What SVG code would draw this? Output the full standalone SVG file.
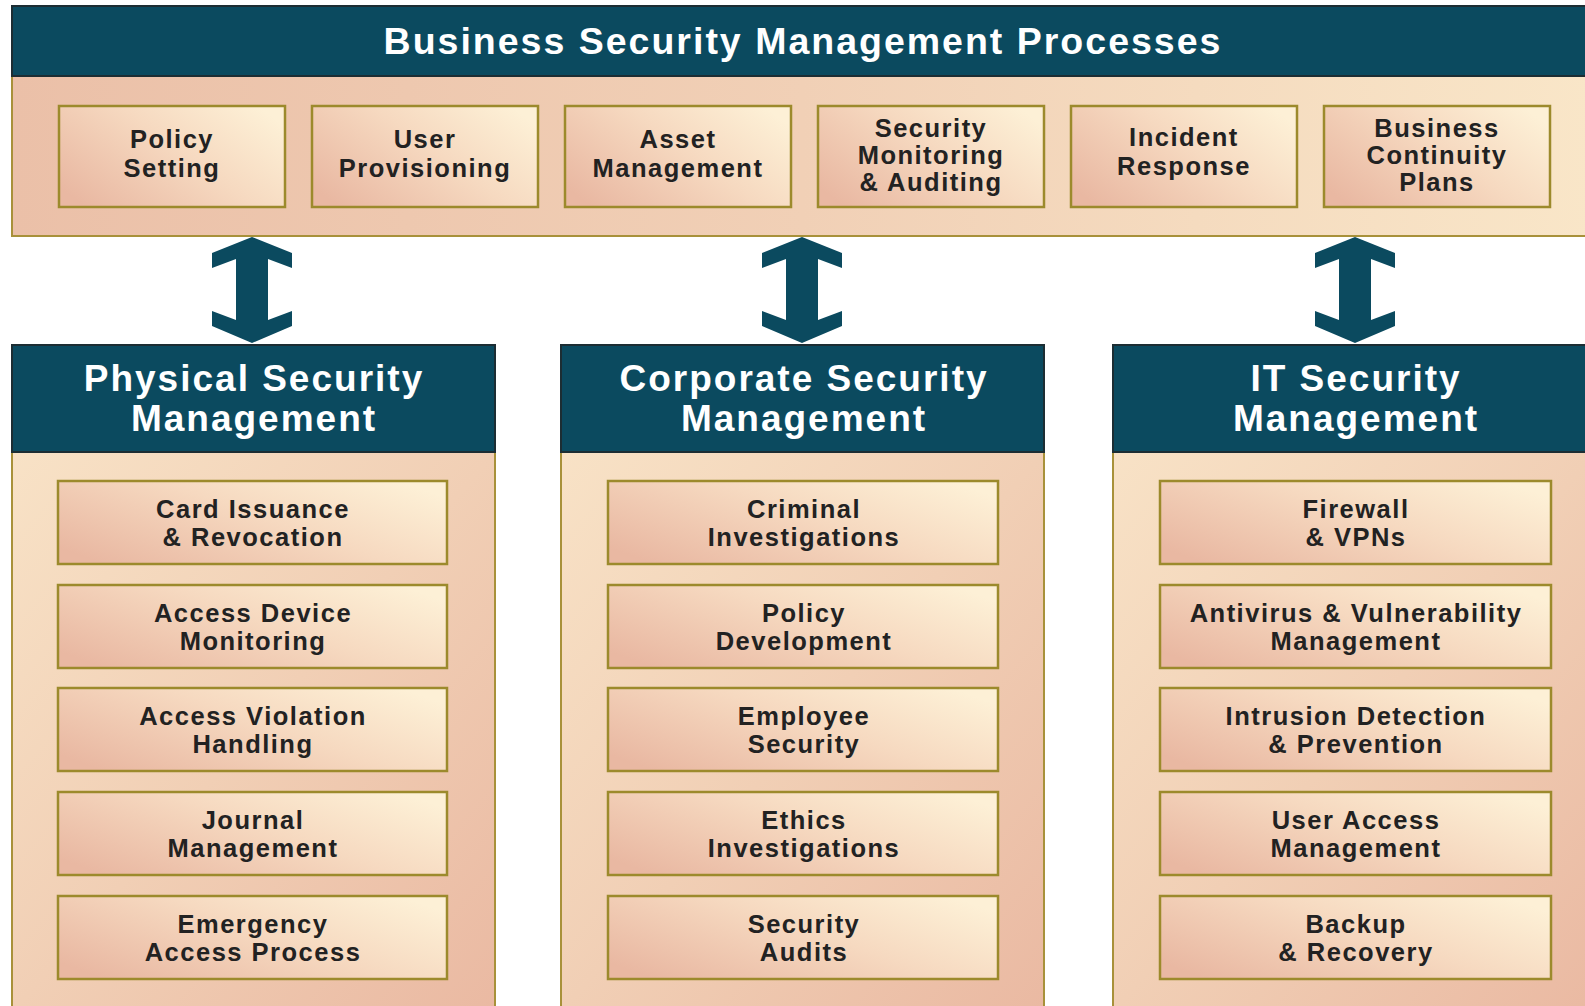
<svg xmlns="http://www.w3.org/2000/svg" width="1585" height="1006" viewBox="0 0 1585 1006">
<defs>
<linearGradient id="gBox" x1="0" y1="0.8" x2="1" y2="0.2">
<stop offset="0" stop-color="#e9b8a2"/>
<stop offset="0.55" stop-color="#f6d9c0"/>
<stop offset="1" stop-color="#fdf0d6"/>
</linearGradient>
<linearGradient id="gBand" x1="0" y1="0" x2="1" y2="0">
<stop offset="0" stop-color="#ebc0a8"/>
<stop offset="0.5" stop-color="#f1d0b6"/>
<stop offset="1" stop-color="#f9e6c8"/>
</linearGradient>
<linearGradient id="gPanel" x1="0" y1="0" x2="1" y2="1">
<stop offset="0" stop-color="#f8e2c6"/>
<stop offset="0.5" stop-color="#f1cfb5"/>
<stop offset="1" stop-color="#eab9a2"/>
</linearGradient>
<style>
.hdr{fill:#0b4a5f;stroke:#1c2d33;stroke-width:2}
.body{stroke:#a8913a;stroke-width:2}
.box{fill:url(#gBox);stroke:#9c8a2c;stroke-width:2.5}
.t{font-family:"Liberation Sans",Arial,sans-serif;font-weight:bold;font-size:25.5px;letter-spacing:1.5px;fill:#222222;text-anchor:middle}
.h{font-family:"Liberation Sans",Arial,sans-serif;font-weight:bold;font-size:37px;letter-spacing:2px;fill:#ffffff;text-anchor:middle}
.title{font-family:"Liberation Sans",Arial,sans-serif;font-weight:bold;font-size:37.5px;letter-spacing:2px;fill:#ffffff;text-anchor:middle}
.arr{fill:#0b4a5f}
</style>
</defs>
<rect width="1585" height="1006" fill="#ffffff"/>

<g id="business">
<rect class="body" x="12" y="76" width="1580" height="160" fill="url(#gBand)"/>
<rect class="hdr" x="12" y="6" width="1580" height="70"/>
<text class="title" x="803" y="54">Business Security Management Processes</text>
</g>

<g id="policy-setting"><rect class="box" x="59" y="106" width="226" height="101"/><text class="t" x="172" y="148">Policy</text><text class="t" x="172" y="177">Setting</text></g>
<g id="user-provisioning"><rect class="box" x="312" y="106" width="226" height="101"/><text class="t" x="425" y="148">User</text><text class="t" x="425" y="177">Provisioning</text></g>
<g id="asset-management"><rect class="box" x="565" y="106" width="226" height="101"/><text class="t" x="678" y="148">Asset</text><text class="t" x="678" y="177">Management</text></g>
<g id="security-monitoring"><rect class="box" x="818" y="106" width="226" height="101"/><text class="t" x="931" y="137">Security</text><text class="t" x="931" y="164">Monitoring</text><text class="t" x="931" y="191">&amp; Auditing</text></g>
<g id="incident-response"><rect class="box" x="1071" y="106" width="226" height="101"/><text class="t" x="1184" y="146">Incident</text><text class="t" x="1184" y="175">Response</text></g>
<g id="business-continuity"><rect class="box" x="1324" y="106" width="226" height="101"/><text class="t" x="1437" y="137">Business</text><text class="t" x="1437" y="164">Continuity</text><text class="t" x="1437" y="191">Plans</text></g>

<g id="connectors">
<path class="arr" d="M252,237 L292,253 L292,268 L268,259 L268,320 L292,311 L292,326 L252,343 L212,326 L212,311 L236,320 L236,259 L212,268 L212,253 Z"/>
<path class="arr" d="M802,237 L842,253 L842,268 L818,259 L818,320 L842,311 L842,326 L802,343 L762,326 L762,311 L786,320 L786,259 L762,268 L762,253 Z"/>
<path class="arr" d="M1355,237 L1395,253 L1395,268 L1371,259 L1371,320 L1395,311 L1395,326 L1355,343 L1315,326 L1315,311 L1339,320 L1339,259 L1315,268 L1315,253 Z"/>
</g>

<g id="physical">
<rect class="body" x="12" y="452" width="483" height="560" fill="url(#gPanel)"/>
<rect class="hdr" x="12" y="345" width="483" height="107"/>
<text class="h" x="254" y="391">Physical Security</text>
<text class="h" x="254" y="431">Management</text>
</g>
<g id="card-issuance"><rect class="box" x="58" y="481" width="389" height="83"/><text class="t" x="253" y="518">Card Issuance</text><text class="t" x="253" y="546">&amp; Revocation</text></g>
<g id="access-device"><rect class="box" x="58" y="585" width="389" height="83"/><text class="t" x="253" y="622">Access Device</text><text class="t" x="253" y="650">Monitoring</text></g>
<g id="access-violation"><rect class="box" x="58" y="688" width="389" height="83"/><text class="t" x="253" y="725">Access Violation</text><text class="t" x="253" y="753">Handling</text></g>
<g id="journal"><rect class="box" x="58" y="792" width="389" height="83"/><text class="t" x="253" y="829">Journal</text><text class="t" x="253" y="857">Management</text></g>
<g id="emergency"><rect class="box" x="58" y="896" width="389" height="83"/><text class="t" x="253" y="933">Emergency</text><text class="t" x="253" y="961">Access Process</text></g>

<g id="corporate">
<rect class="body" x="561" y="452" width="483" height="560" fill="url(#gPanel)"/>
<rect class="hdr" x="561" y="345" width="483" height="107"/>
<text class="h" x="804" y="391">Corporate Security</text>
<text class="h" x="804" y="431">Management</text>
</g>
<g id="criminal"><rect class="box" x="608" y="481" width="390" height="83"/><text class="t" x="804" y="518">Criminal</text><text class="t" x="804" y="546">Investigations</text></g>
<g id="policy-dev"><rect class="box" x="608" y="585" width="390" height="83"/><text class="t" x="804" y="622">Policy</text><text class="t" x="804" y="650">Development</text></g>
<g id="employee"><rect class="box" x="608" y="688" width="390" height="83"/><text class="t" x="804" y="725">Employee</text><text class="t" x="804" y="753">Security</text></g>
<g id="ethics"><rect class="box" x="608" y="792" width="390" height="83"/><text class="t" x="804" y="829">Ethics</text><text class="t" x="804" y="857">Investigations</text></g>
<g id="audits"><rect class="box" x="608" y="896" width="390" height="83"/><text class="t" x="804" y="933">Security</text><text class="t" x="804" y="961">Audits</text></g>

<g id="it">
<rect class="body" x="1113" y="452" width="483" height="560" fill="url(#gPanel)"/>
<rect class="hdr" x="1113" y="345" width="483" height="107"/>
<text class="h" x="1356" y="391">IT Security</text>
<text class="h" x="1356" y="431">Management</text>
</g>
<g id="firewall"><rect class="box" x="1160" y="481" width="391" height="83"/><text class="t" x="1356" y="518">Firewall</text><text class="t" x="1356" y="546">&amp; VPNs</text></g>
<g id="antivirus"><rect class="box" x="1160" y="585" width="391" height="83"/><text class="t" x="1356" y="622">Antivirus &amp; Vulnerability</text><text class="t" x="1356" y="650">Management</text></g>
<g id="intrusion"><rect class="box" x="1160" y="688" width="391" height="83"/><text class="t" x="1356" y="725">Intrusion Detection</text><text class="t" x="1356" y="753">&amp; Prevention</text></g>
<g id="user-access"><rect class="box" x="1160" y="792" width="391" height="83"/><text class="t" x="1356" y="829">User Access</text><text class="t" x="1356" y="857">Management</text></g>
<g id="backup"><rect class="box" x="1160" y="896" width="391" height="83"/><text class="t" x="1356" y="933">Backup</text><text class="t" x="1356" y="961">&amp; Recovery</text></g>
</svg>
